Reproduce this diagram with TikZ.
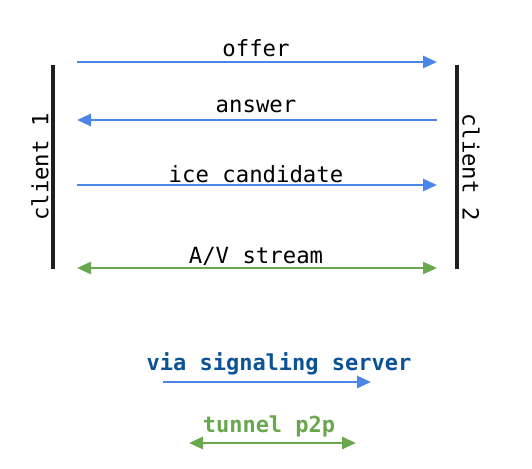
\documentclass[tikz,border=0pt]{standalone}
\usepackage{fontspec}
\setmonofont{DejaVu Sans Mono}
\usepackage{xcolor}
\usetikzlibrary{arrows.meta}

\definecolor{sigblue}{HTML}{4A86E8}
\definecolor{p2pgreen}{HTML}{6AA84F}
\definecolor{sigtext}{HTML}{0B5394}

\tikzset{
    lbl/.style={font=\ttfamily\fontsize{22.3}{25}\selectfont,inner sep=0pt},
    legendlbl/.style={font=\ttfamily\bfseries\fontsize{22}{25}\selectfont,inner sep=0pt},
    sigarrow/.style={draw=sigblue,line width=2.7pt,-{Triangle[length=14pt,width=12pt]}},
    p2parrow/.style={draw=p2pgreen,line width=2.7pt,{Triangle[length=14pt,width=12pt]}-{Triangle[length=14pt,width=12pt]}},
    peerbar/.style={draw=black!88,line width=4.8pt}
}

\begin{document}
\begin{tikzpicture}[x=1pt,y=-1pt]
        % \draw[help lines] grid(532,468);
        \useasboundingbox (0,0) rectangle (532,468);

        \coordinate (c1top) at (53,65);
        \coordinate (c1bot) at (53,269);
        \coordinate (c2top) at (457,65);
        \coordinate (c2bot) at (457,269);
        \draw[peerbar] (c1top) -- (c1bot);
        \draw[peerbar] (c2top) -- (c2bot);

        \node[lbl,rotate=90] (client1) at (40,167) {client 1};
        \node[lbl,rotate=-90] (client2) at (471,167) {client 2};

        % messages between the two clients
        \coordinate (offerL) at (77,62);
        \coordinate (offerR) at (437,62);
        \coordinate (answerL) at (77,120);
        \coordinate (answerR) at (437,120);
        \coordinate (iceL) at (77,185);
        \coordinate (iceR) at (437,185);
        \coordinate (avL) at (77,268);
        \coordinate (avR) at (437,268);

        \draw[sigarrow] (offerL) -- (offerR);
        \draw[sigarrow] (answerR) -- (answerL);
        \draw[sigarrow] (iceL) -- (iceR);
        \draw[p2parrow] (avL) -- (avR);

        \node[lbl] (offer) at (256,48) {offer};
        \node[lbl] (answer) at (256,106) {answer};
        \node[lbl] (ice) at (256,174) {ice candidate};
        \node[lbl] (av) at (256,256) {A/V stream};

        % legend
        \node[legendlbl,text=sigtext] (via) at (279,364) {via signaling server};
        \coordinate (viaL) at (163,382);
        \coordinate (viaR) at (371,382);
        \draw[sigarrow] (viaL) -- (viaR);

        \node[legendlbl,text=p2pgreen] (tunnel) at (269,426) {tunnel p2p};
        \coordinate (tunL) at (189,443);
        \coordinate (tunR) at (356,443);
        \draw[p2parrow] (tunL) -- (tunR);
    \end{tikzpicture}
\end{document}
